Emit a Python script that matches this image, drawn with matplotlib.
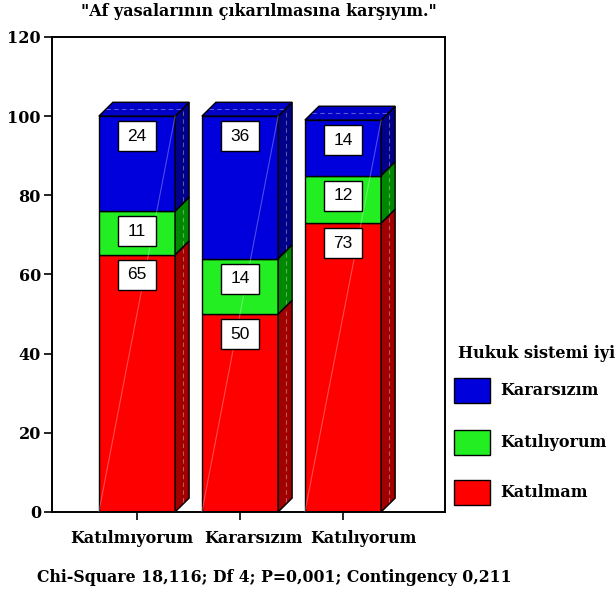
import matplotlib
matplotlib.use('Agg')
import matplotlib.pyplot as plt
import matplotlib.transforms as mtransforms
from matplotlib.patches import Polygon, Rectangle

plt.rcParams['font.family'] = 'DejaVu Serif'
plt.rcParams['font.weight'] = 'bold'

# "Af yasalarının çıkarılmasına karşıyım." answers (x) split by "Hukuk sistemi iyi" (stack), in %
categories = ['Katılmıyorum', 'Kararsızım', 'Katılıyorum']
katilmam = [65, 50, 73]
katiliyorum = [11, 14, 12]
kararsizim = [24, 36, 14]

stack_names = ['Katılmam', 'Katılıyorum', 'Kararsızım']
stack_values = [katilmam, katiliyorum, kararsizim]
front_colors = ['#ff0000', '#22ee22', '#0000dd']
side_colors = ['#a00000', '#008800', '#000088']
top_color = '#0000c8'

width = 0.74
dx, dy = 0.136, 3.5  # depth offset of the fake 3d bars

fig = plt.figure(figsize=(6.16, 5.97), dpi=100)
ax = fig.add_axes([0.0844, 0.1424, 0.638, 0.7957])

x = list(range(len(categories)))
for i in x:
    left, right = i - width / 2, i + width / 2
    bottom = 0
    for k, vals in enumerate(stack_values):
        top = bottom + vals[i]
        ax.bar(i, vals[i], width, bottom=bottom, color=front_colors[k],
               edgecolor='black', linewidth=1, zorder=2)
        side = Polygon([(right, bottom), (right + dx, bottom + dy),
                        (right + dx, top + dy), (right, top)],
                       closed=True, facecolor=side_colors[k], edgecolor='black',
                       linewidth=1, zorder=2)
        ax.add_patch(side)
        # light stripe down the side face
        ax.plot([right + dx * 0.55] * 2, [bottom + dy * 0.7, top + dy * 0.4],
                color='white', alpha=0.35, linewidth=0.8, ls=(0, (4, 3)), zorder=3)
        # value box just under the top of the segment
        bh, bw = 7.6, 0.37
        ax.add_patch(Rectangle((i - bw / 2, top - 1.3 - bh), bw, bh,
                               facecolor='white', edgecolor='black',
                               linewidth=1, zorder=5))
        ax.text(i, top - 1.3 - bh / 2, str(vals[i]), ha='center', va='center',
                fontsize=12.5, family='Liberation Sans', weight='normal', zorder=6)
        bottom = top
    # top face of the stack
    topface = Polygon([(left, bottom), (left + dx, bottom + dy),
                       (right + dx, bottom + dy), (right, bottom)],
                      closed=True, facecolor=top_color, edgecolor='black',
                      linewidth=1, zorder=2)
    ax.add_patch(topface)
    ax.plot([left + dx * 0.5, right + dx * 0.5], [bottom + dy * 0.5] * 2,
            color='white', alpha=0.35, linewidth=0.8, ls=(0, (4, 3)), zorder=3)
    # gloss diagonal across the front
    ax.plot([left, right], [0, bottom], color='white', alpha=0.3,
            linewidth=0.8, zorder=3)

ax.set_xlim(-0.825, 2.99)
ax.set_ylim(0, 120)
ax.set_yticks(range(0, 121, 20))
ax.set_xticks(x)
ax.set_xticklabels(categories)
ax.tick_params(axis='both', direction='out', length=6, width=1.2,
               labelsize=11.5, color='black')
ax.tick_params(axis='x', pad=7)
ax.tick_params(axis='y', pad=2)
for s in ax.spines.values():
    s.set_linewidth(1.4)

# spread the category labels a little so they don't run together
label_shift = [-5, 13, 20]
for lab, sh in zip(ax.get_xticklabels(), label_shift):
    lab.set_transform(lab.get_transform() +
                      mtransforms.ScaledTranslation(sh / 100, 0, fig.dpi_scale_trans))

fig.text(259 / 616, 1 - 11 / 597, '"Af yasalarının çıkarılmasına karşıyım."',
         ha='center', va='center', fontsize=11.5, weight='bold')
fig.text(37 / 616, 1 - 577 / 597,
         'Chi-Square 18,116; Df 4; P=0,001; Contingency 0,211',
         ha='left', va='center', fontsize=11.3, weight='bold')

# legend drawn by hand, Kararsızım on top
fig.text(458 / 616, 1 - 353 / 597, 'Hukuk sistemi iyi', ha='left', va='center',
         fontsize=11.5, weight='bold')
leg_rows = [378, 430, 480]
for row, k in zip(leg_rows, [2, 1, 0]):
    fig.add_artist(Rectangle((454 / 616, 1 - (row + 25) / 597), 36 / 616, 25 / 597,
                             transform=fig.transFigure, facecolor=front_colors[k],
                             edgecolor='black', linewidth=1))
    fig.text(500 / 616, 1 - (row + 12.5) / 597, stack_names[k], ha='left',
             va='center', fontsize=11.5, weight='bold')

fig.savefig('out.png', dpi=100)
